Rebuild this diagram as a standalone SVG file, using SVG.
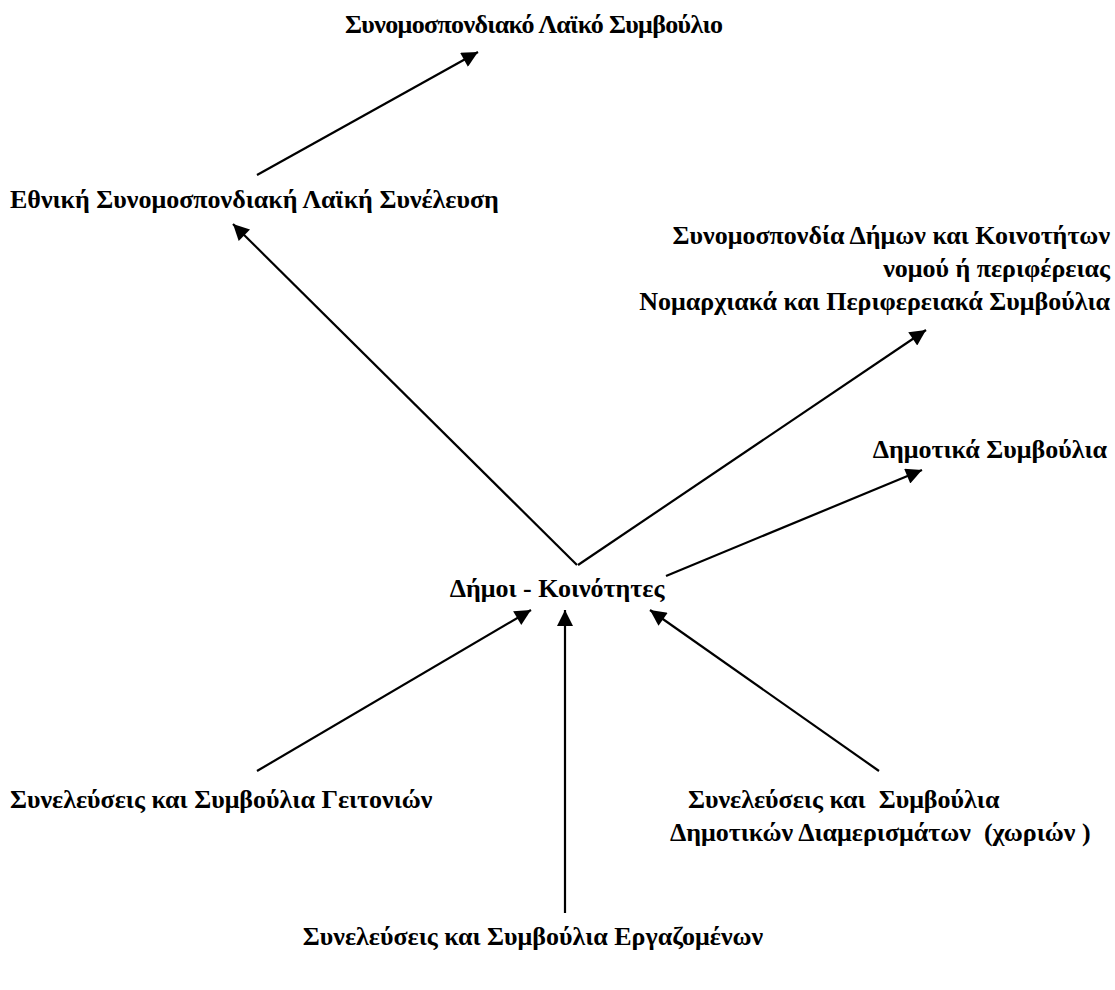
<svg xmlns="http://www.w3.org/2000/svg" width="1115" height="990" viewBox="0 0 1115 990">
<style>
text{font-family:'Liberation Serif','Times New Roman',serif;font-weight:bold;font-size:26px;fill:#000}
.c line{stroke:#000;stroke-width:2.2}
</style>
<defs>
<marker id="ah" viewBox="0 0 10 10" refX="10" refY="5" markerUnits="userSpaceOnUse" markerWidth="20" markerHeight="16" orient="auto">
<path d="M0,0 L10,5 L0,10 z" fill="#000"/>
</marker>
</defs>
<rect width="1115" height="990" fill="#fff"/>
<g class="c" id="connectors">
<line x1="257" y1="175" x2="478" y2="52" marker-end="url(#ah)"/>
<line x1="577" y1="565" x2="233" y2="224" marker-end="url(#ah)"/>
<line x1="578" y1="565" x2="926" y2="330" marker-end="url(#ah)"/>
<line x1="666" y1="576" x2="922" y2="470" marker-end="url(#ah)"/>
<line x1="257" y1="771" x2="531" y2="610" marker-end="url(#ah)"/>
<line x1="565" y1="913" x2="565" y2="610" marker-end="url(#ah)"/>
<line x1="879" y1="771" x2="650" y2="610" marker-end="url(#ah)"/>
</g>
<g id="n1"><text x="534" y="33" text-anchor="middle" textLength="378">Συνομοσπονδιακό Λαϊκό Συμβούλιο</text></g>
<g id="n2"><text x="10" y="208">Εθνική Συνομοσπονδιακή Λαϊκή Συνέλευση</text></g>
<g id="n3">
<text x="1110" y="244" text-anchor="end">Συνομοσπονδία Δήμων και Κοινοτήτων</text>
<text x="1110" y="277" text-anchor="end">νομού ή περιφέρειας</text>
<text x="1110" y="310" text-anchor="end">Νομαρχιακά και Περιφερειακά Συμβούλια</text>
</g>
<g id="n4"><text x="1107" y="458" text-anchor="end">Δημοτικά Συμβούλια</text></g>
<g id="n5"><text x="557" y="597" text-anchor="middle">Δήμοι - Κοινότητες</text></g>
<g id="n6"><text x="10" y="808">Συνελεύσεις και Συμβούλια Γειτονιών</text></g>
<g id="n7">
<text x="688" y="808" xml:space="preserve">Συνελεύσεις και  Συμβούλια</text>
<text x="670" y="841" xml:space="preserve">Δημοτικών Διαμερισμάτων  (χωριών )</text>
</g>
<g id="n8"><text x="533" y="945" text-anchor="middle">Συνελεύσεις και Συμβούλια Εργαζομένων</text></g>
</svg>
